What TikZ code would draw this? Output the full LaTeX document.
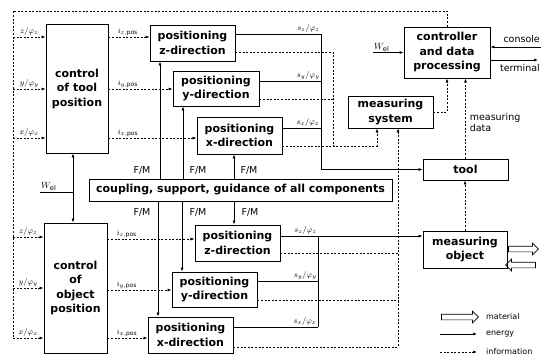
\documentclass[tikz,border=0pt]{standalone}
\usepackage{fontspec}
\setmainfont{DejaVu Sans}
\usepackage{tikz}
\usetikzlibrary{positioning}
\usetikzlibrary{calc,shadows,shapes.arrows}
\usetikzlibrary{arrows.meta}
\tikzset{>={Latex[length=4pt,width=3pt]}}
\tikzset{
  block/.style={draw, line width=0.8pt, fill=white, align=center, inner sep=1pt,
    font=\bfseries\fontsize{11}{14.5}\selectfont,
    drop shadow={shadow xshift=1.2pt,shadow yshift=-1.2pt,fill=black,opacity=1}},
  info/.style={dash pattern=on 2pt off 1.6pt, line width=0.7pt},
  energy/.style={line width=0.7pt},
  matarrow/.style={single arrow, draw, line width=0.7pt, inner sep=2.5pt,
    single arrow head extend=3pt, minimum height=30pt},
  lab/.style={font=\fontsize{9.5}{11}\selectfont, inner sep=1pt},
  leg/.style={font=\fontsize{8}{9}\selectfont, inner sep=1pt, anchor=west},
  sig/.style={font=\fontsize{8.5}{10}\selectfont, inner sep=1pt},
}

\begin{document}
\begin{tikzpicture}[x=1pt,y=-1pt]
\useasboundingbox (0,0) rectangle (541,361);

% Control blocks
\node[block, minimum width=62pt, minimum height=129pt] (ctool) at (77,88.5) {control\\of tool\\position};
\node[block, minimum width=63pt, minimum height=130pt] (cobj) at (75.5,288) {control\\of\\object\\position};

% Positioning, tool side
\node[block, minimum width=85pt, minimum height=36pt] (tz) at (192.5,43) {positioning\\z-direction};
\node[block, minimum width=86pt, minimum height=35pt] (ty) at (216,88.5) {positioning\\y-direction};
\node[block, minimum width=85pt, minimum height=37pt] (tx) at (239.5,135.5) {positioning\\x-direction};

% Positioning, object side
\node[block, minimum width=85pt, minimum height=36pt] (bz) at (237.5,243) {positioning\\z-direction};
\node[block, minimum width=85pt, minimum height=35pt] (by) at (214.5,289.5) {positioning\\y-direction};
\node[block, minimum width=85pt, minimum height=36pt] (bx) at (190.5,335) {positioning\\x-direction};

% Coupling
\node[block, minimum width=303pt, minimum height=22pt] (coup) at (240.5,190) {coupling, support, guidance of all components};

% Controller, measuring system, tool, object
\node[block, minimum width=86pt, minimum height=51pt] (ctrl) at (447,52.5) {controller\\and data\\processing};
\node[block, minimum width=85pt, minimum height=32pt] (msys) at (390.5,112) {measuring\\system};
\node[block, minimum width=85pt, minimum height=21pt] (tool) at (465.5,169.5) {tool};
\node[block, minimum width=84pt, minimum height=37pt] (mobj) at (465,249.5) {measuring\\object};

% Material flow
\node[matarrow] (matout) at (522,249) {};
\node[matarrow, shape border rotate=180] (matin) at (522,265) {};

% Set values from controller
\coordinate (ftl) at (13,11);
\coordinate (fbl) at (13,338);
\draw[info] (ctrl.north) |- (ftl) -- (fbl);
\foreach \yy/\ax in {37/z,89/y,138/x}
  \draw[info,->] (ftl |- 0,\yy) -- (ctool.west |- 0,\yy) node[sig, pos=0.5, above] {$\ax/\varphi_{\ax}$};
\foreach \yy/\ax in {237/z,288/y,338/x}
  \draw[info,->] (fbl |- 0,\yy) -- (cobj.west |- 0,\yy) node[sig, pos=0.5, above] {$\ax/\varphi_{\ax}$};

% Currents
\foreach \yy/\ax/\blk in {37/z/tz,89/y/ty,138/x/tx}
  \draw[info,->] (ctool.east |- 0,\yy) -- (\blk.west |- 0,\yy) node[sig, pos=0, anchor=south west, xshift=8pt] {$i_{\ax,\mathrm{pos}}$};
\foreach \yy/\ax/\blk in {239/z/bz,290/y/by,338/x/bx}
  \draw[info,->] (cobj.east |- 0,\yy) -- (\blk.west |- 0,\yy) node[sig, pos=0, anchor=south west, xshift=8pt] {$i_{\ax,\mathrm{pos}}$};

% Outputs, tool side
\coordinate (tbus) at (321,169.5);
\foreach \yy/\ax/\blk in {34/z/tz,81/y/ty,128/x/tx}
  \draw[energy] (\blk.east |- 0,\yy) -- (tbus |- 0,\yy) node[sig, pos=1, above left] {$s_{\ax}/\varphi_{\ax}$};
\draw[energy] (tbus |- 0,34) -- (tbus);
\draw[energy,->] (tbus) -- (tool.west);

% Outputs, object side
\coordinate (obus) at (318,327);
\foreach \yy/\ax/\blk in {281/y/by,327/x/bx}
  \draw[energy] (\blk.east |- 0,\yy) -- (obus |- 0,\yy) node[sig, pos=1, above left] {$s_{\ax}/\varphi_{\ax}$};
\draw[energy,->] (bz.east |- 0,236) -- (mobj.west |- 0,236);
\node[sig, above left] (szo) at (obus |- 0,236) {$s_{z}/\varphi_{z}$};
\draw[energy] (obus) -- (obus |- 0,236);

% Actual values to measuring system
\coordinate (tjoin) at (333,146);
\coordinate (mtop) at (377,146);
\coordinate (mbot) at (398,347);
\draw[info] (tz.east |- 0,52) -| (tjoin);
\draw[info] (ty.east |- 0,99) -- (tjoin |- 0,99);
\draw[info,->] (tx.east |- mtop) -- (mtop) -- (mtop |- msys.south);
\draw[info] (bz.east |- 0,253) -- (mbot |- 0,253);
\draw[info] (by.east |- 0,300) -- (mbot |- 0,300);
\draw[info,->] (bx.east |- mbot) -- (mbot) -- (mbot |- msys.south);

% Measuring data
\draw[info,->] (msys.east) -| (ctrl.south);
\draw[info,->] (tool.north) -- (tool.north |- ctrl.south) node[lab, pos=0.45, right, align=left, xshift=3pt] {measuring\\data};
\draw[info,->] (mobj.north) -- (mobj.north |- tool.south);

% Energy supply
\coordinate (wjoin) at (73,192);
\coordinate (wleft) at (40,192);
\coordinate (wctrl) at (373,52.5);
\draw[energy] (wleft) -- (wjoin);
\node[lab, above right] (wl) at (wleft) {$W_{\mathrm{el}}$};
\draw[energy,->] (wjoin) -- (wjoin |- ctool.south);
\draw[energy,->] (wjoin) -- (wjoin |- cobj.north);
\draw[energy,->] (wctrl) -- (ctrl.west);
\node[lab, above right] (wr) at (wctrl) {$W_{\mathrm{el}}$};

% Console and terminal
\coordinate (cons) at (541,47);
\coordinate (term) at (538,60);
\draw[energy,->] (cons) -- (ctrl.east |- cons);
\node[lab, above left, yshift=3pt] (consl) at (cons) {console};
\draw[energy,->] (ctrl.east |- term) -- (term);
\node[lab, anchor=north east, yshift=-3pt] (terml) at (541,60) {terminal};

% F/M
\foreach \xx/\blk in {160/tz,183/ty,234/tx}
  \draw[energy,->] (coup.north -| \xx,0) -- (\blk.south -| \xx,0);
\foreach \xx/\blk in {158/bx,182/by,234/bz}
  \draw[energy,->] (coup.south -| \xx,0) -- (\blk.north -| \xx,0);
\node[lab] (fm1) at (142,170) {F/M};
\node[lab] (fm2) at (198,170) {F/M};
\node[lab] (fm3) at (249,170) {F/M};
\node[lab] (fm4) at (142,212) {F/M};
\node[lab] (fm5) at (198,212) {F/M};
\node[lab] (fm6) at (250,212) {F/M};

% Legend
\node[matarrow, minimum height=37pt] (legmat) at (458.5,317) {};
\node[leg] (legmatt) at (485,317) {material};
\coordinate (lege) at (440,334);
\coordinate (legi) at (440,352);
\node[leg] (legent) at (485,334) {energy};
\node[leg] (leginf) at (485,352) {information};
\draw[energy,->] (lege) -- (legent.west -| 477,0);
\draw[info,->] (legi) -- (leginf.west -| 477,0);

\end{tikzpicture}
\end{document}
